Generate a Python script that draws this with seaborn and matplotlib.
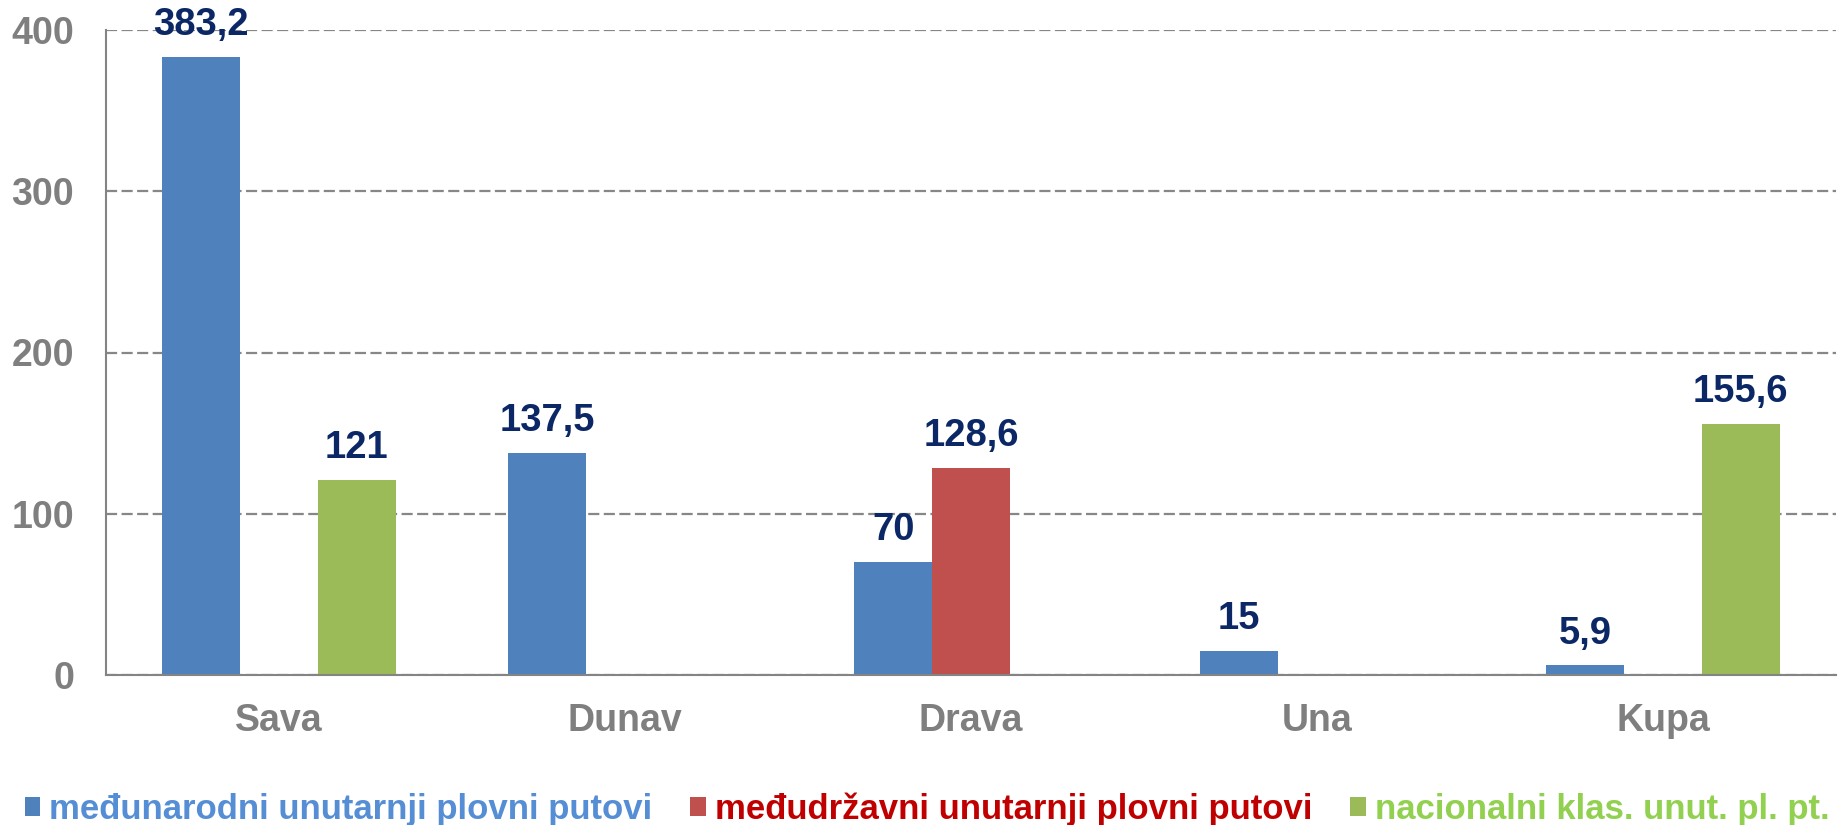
import numpy as np
import pandas as pd
import matplotlib
matplotlib.use("Agg")
import matplotlib.pyplot as plt
import seaborn as sns

# Lengths of inland waterways by river and category (km)
rijeke = ["Sava", "Dunav", "Drava", "Una", "Kupa"]
kategorije = [
    "međunarodni unutarnji plovni putovi",
    "međudržavni unutarnji plovni putovi",
    "nacionalni klas. unut. pl. pt.",
]
medunarodni = [383.2, 137.5, 70, 15, 5.9]
meddrzavni = [np.nan, np.nan, 128.6, np.nan, np.nan]
nacionalni = [121, np.nan, np.nan, np.nan, 155.6]
y_ticks = [0, 100, 200, 300, 400]

boje = ["#4F81BD", "#C0504D", "#9BBB59"]
boje_teksta = ["#558ED5", "#C00000", "#92D050"]
siva = "#848484"
tamnoplava = "#0B2766"

rows = []
for serija, vrijednosti in zip(kategorije, [medunarodni, meddrzavni, nacionalni]):
    for r, v in zip(rijeke, vrijednosti):
        if not np.isnan(v):
            rows.append({"rijeka": r, "kategorija": serija, "km": v})
df = pd.DataFrame(rows)

sns.set_theme(style="white")
plt.rcParams["font.family"] = ["Liberation Sans", "DejaVu Sans"]
plt.rcParams["font.weight"] = "bold"

fig = plt.figure(figsize=(18.39, 8.25), dpi=100)
ax = fig.add_axes([106 / 1839, 150 / 825, 1730 / 1839, 645 / 825])

sns.barplot(
    data=df, x="rijeka", y="km", hue="kategorija",
    order=rijeke, hue_order=kategorije, palette=boje,
    width=0.675, saturation=1, linewidth=0, ax=ax,
)

handles, labels = ax.get_legend_handles_labels()
if ax.get_legend() is not None:
    ax.get_legend().remove()

for cont in ax.containers:
    ax.bar_label(
        cont, fmt=lambda v: f"{v:g}".replace(".", ","),
        padding=10, color=tamnoplava, fontsize=27.5, fontweight="bold",
    )

ax.set_xlim(-0.5, len(rijeke) - 0.5)
ax.set_ylim(0, 400)
ax.set_yticks(y_ticks)
ax.set_yticklabels([str(t) for t in y_ticks])
ax.set_xlabel("")
ax.set_ylabel("")

ax.yaxis.grid(True, linestyle=(0, (5, 2)), color="#878787", linewidth=1.6)
ax.xaxis.grid(False)
ax.set_axisbelow(True)

for s in ["top", "right"]:
    ax.spines[s].set_visible(False)
for s in ["left", "bottom"]:
    ax.spines[s].set_color(siva)
    ax.spines[s].set_linewidth(1.5)

ax.set_xticks(np.arange(-0.5, len(rijeke), 1), minor=True)
ax.tick_params(axis="x", which="major", length=0, pad=20,
               labelsize=27, labelcolor="#7F7F7F")
ax.tick_params(axis="x", which="minor", length=8, width=1.5,
               color=siva, direction="out")
ax.tick_params(axis="y", length=8, width=1.5, color=siva, direction="out",
               pad=15, labelsize=27, labelcolor="#7F7F7F")
for lab in ax.get_xticklabels() + ax.get_yticklabels():
    lab.set_fontweight("bold")

fig.legend(
    handles, labels, loc="center", bbox_to_anchor=(0.504, 0.0194),
    ncol=3, frameon=False, labelcolor=boje_teksta,
    handlelength=0.46, handleheight=0.46, handletextpad=0.24,
    columnspacing=1.1, borderpad=0, borderaxespad=0,
    prop={"weight": "bold", "size": 25},
)

fig.savefig("out.png", dpi=100, facecolor="white")
